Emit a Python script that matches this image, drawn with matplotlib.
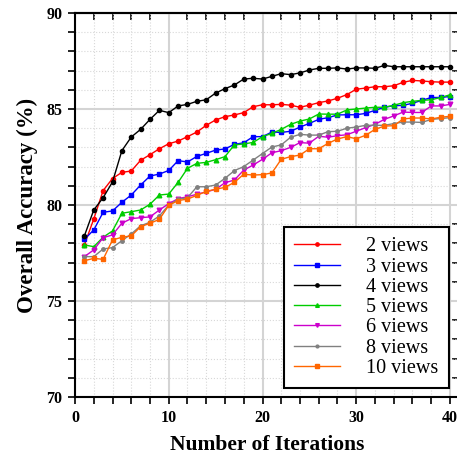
import numpy as np
import matplotlib.pyplot as plt
from matplotlib.ticker import MultipleLocator

iters = np.arange(1, 41)

acc_2 = [77.92, 79.27, 80.75, 81.38, 81.7, 81.77, 82.33, 82.62, 82.93, 83.19,
         83.33, 83.56, 83.8, 84.15, 84.43, 84.6, 84.69, 84.81, 85.12, 85.22,
         85.22, 85.24, 85.2, 85.09, 85.2, 85.33, 85.42, 85.56, 85.75, 86.03,
         86.09, 86.16, 86.16, 86.21, 86.39, 86.49, 86.46, 86.42, 86.4, 86.4]
acc_3 = [78.21, 78.7, 79.62, 79.69, 80.14, 80.52, 81.04, 81.51, 81.61, 81.8,
         82.31, 82.24, 82.53, 82.69, 82.86, 82.92, 83.16, 83.24, 83.56, 83.56,
         83.8, 83.78, 83.84, 84.06, 84.25, 84.46, 84.55, 84.69, 84.7, 84.7,
         84.77, 84.93, 85.09, 85.17, 85.19, 85.3, 85.45, 85.6, 85.6, 85.65]
acc_4 = [78.39, 79.74, 80.38, 81.2, 82.83, 83.54, 83.94, 84.46, 84.93, 84.81,
         85.16, 85.24, 85.4, 85.48, 85.83, 86.06, 86.25, 86.56, 86.6, 86.56,
         86.7, 86.84, 86.79, 86.88, 87.03, 87.12, 87.12, 87.14, 87.08, 87.14,
         87.14, 87.12, 87.27, 87.2, 87.2, 87.2, 87.2, 87.2, 87.2, 87.2]
acc_5 = [77.92, 77.83, 78.32, 78.65, 79.57, 79.65, 79.74, 80.04, 80.52, 80.57,
         81.18, 81.91, 82.17, 82.22, 82.36, 82.52, 83.13, 83.18, 83.26, 83.56,
         83.73, 83.94, 84.2, 84.37, 84.48, 84.74, 84.73, 84.73, 84.95, 85.0,
         85.05, 85.09, 85.09, 85.19, 85.33, 85.4, 85.45, 85.48, 85.6, 85.74]
acc_6 = [77.31, 77.66, 78.3, 78.44, 79.05, 79.29, 79.34, 79.38, 79.74, 80.07,
         80.33, 80.43, 80.56, 80.68, 80.82, 81.16, 81.3, 81.82, 82.08, 82.38,
         82.72, 82.83, 83.0, 83.25, 83.22, 83.58, 83.53, 83.61, 83.66, 83.84,
         84.03, 84.2, 84.46, 84.64, 84.84, 84.82, 84.82, 85.16, 85.16, 85.24]
acc_8 = [77.31, 77.31, 77.71, 77.78, 78.14, 78.49, 78.92, 79.1, 79.43, 80.0,
         80.3, 80.38, 80.95, 80.95, 81.04, 81.39, 81.79, 82.0, 82.34, 82.68,
         83.02, 83.13, 83.53, 83.68, 83.64, 83.64, 83.82, 83.84, 84.0, 84.06,
         84.15, 84.15, 84.15, 84.24, 84.32, 84.32, 84.3, 84.46, 84.5, 84.55]
acc_10 = [77.1, 77.22, 77.17, 78.18, 78.32, 78.39, 78.87, 79.05, 79.25, 79.98,
          80.23, 80.31, 80.5, 80.71, 80.82, 80.92, 81.18, 81.6, 81.56, 81.58,
          81.67, 82.38, 82.52, 82.6, 82.93, 82.93, 83.21, 83.44, 83.56, 83.45,
          83.63, 83.94, 84.11, 84.13, 84.48, 84.53, 84.53, 84.48, 84.57, 84.62]

labels = ['2 views', '3 views', '4 views', '5 views', '6 views', '8 views', '10 views']
series = [acc_2, acc_3, acc_4, acc_5, acc_6, acc_8, acc_10]
colors = ['#ff0000', '#0000ff', '#000000', '#00cc00', '#cc00cc', '#808080', '#ff6600']
markers = ['o', 's', 'o', '^', 'v', 'o', 's']
msizes = [3, 3.3, 3, 3.3, 3.3, 2.5, 2.8]

serif = 'Liberation Serif'

fig = plt.figure(figsize=(4.57, 4.66), dpi=100)
ax = fig.add_axes([75 / 457, 69 / 466, 384 / 457, 384 / 466])

for y, c, m, ms, lab in zip(series, colors, markers, msizes, labels):
    ax.plot(iters, y, color=c, marker=m, markersize=ms, linewidth=1.0, label=lab)

ax.set_xlim(0, 384 / 9.375)
ax.set_ylim(70, 90)
ax.xaxis.set_major_locator(MultipleLocator(10))
ax.xaxis.set_minor_locator(MultipleLocator(2))
ax.yaxis.set_major_locator(MultipleLocator(5))
ax.yaxis.set_minor_locator(MultipleLocator(1))

ax.grid(which='major', color='#d4d4d4', linestyle='-', linewidth=1.5)
ax.grid(which='minor', color='#d8d8d8', linestyle=':', linewidth=0.8)
ax.set_axisbelow(True)

ax.tick_params(which='both', direction='out', length=5, width=1.2,
               labelsize=11.5, pad=4)
for lbl in ax.get_xticklabels() + ax.get_yticklabels():
    lbl.set_fontfamily(serif)
    lbl.set_fontweight('bold')

top = ax.secondary_xaxis('top')
top.xaxis.set_major_locator(MultipleLocator(2))
top.tick_params(direction='in', length=5, width=1.2, labeltop=False)
right = ax.secondary_yaxis('right')
right.yaxis.set_major_locator(MultipleLocator(1))
right.tick_params(direction='in', length=5, width=1.2, labelright=False)

for s in ax.spines.values():
    s.set_linewidth(1.5)
top.spines['top'].set_linewidth(1.5)

ax.set_xlabel('Number of Iterations', fontfamily=serif, fontweight='bold',
              fontsize=15.5, labelpad=7)
ax.set_ylabel('Overall Accuracy (%)', fontfamily=serif, fontweight='bold',
              fontsize=16.5, labelpad=6)

leg = ax.legend(loc='lower left', bbox_to_anchor=(0.544, 0.023),
                borderaxespad=0, prop={'family': serif, 'size': 14.5},
                handlelength=2.3, handletextpad=1.3, labelspacing=0.06,
                borderpad=0.5, markerscale=0.8, fancybox=False, framealpha=1,
                edgecolor='black')
leg.get_frame().set_linewidth(1.5)

fig.savefig('out.png', dpi=100)
